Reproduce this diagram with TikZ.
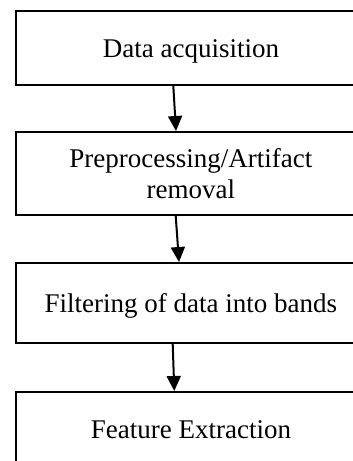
\documentclass[tikz,border=0pt]{standalone}
\usepackage{fontspec}
\setmainfont{Liberation Serif}
\usetikzlibrary{arrows.meta}
\begin{document}
\begin{tikzpicture}[x=1pt,y=-1pt,
  stepbox/.style={draw, line width=1.8pt, minimum width=350pt, inner sep=0pt,
    anchor=north west, align=center, font=\fontsize{27}{31}\selectfont},
  oneline/.style={text height=24pt, text depth=4pt},
  arr/.style={line width=2pt, -{Triangle[width=14pt,length=15pt]}}]
\clip (0,0) rectangle (353,461);
\fill[white] (0,0) rectangle (353,461);
\node[stepbox, oneline, minimum height=74pt] (b1) at (15,10) {Data acquisition};
\node[stepbox, minimum height=83pt] (b2) at (15,131) {Preprocessing/Artifact\\removal};
\node[stepbox, oneline, minimum height=80pt] (b3) at (15,262) {Filtering of data into bands};
\node[stepbox, oneline, minimum height=74pt] (b4) at (15,391) {Feature Extraction};
\draw[arr] ([xshift=158.3pt]b1.south west) -- ([xshift=161pt]b2.north west);
\draw[arr] ([xshift=160.7pt]b2.south west) -- ([xshift=164pt]b3.north west);
\draw[arr] ([xshift=157.7pt]b3.south west) -- ([xshift=159.3pt]b4.north west);
\end{tikzpicture}
\end{document}
